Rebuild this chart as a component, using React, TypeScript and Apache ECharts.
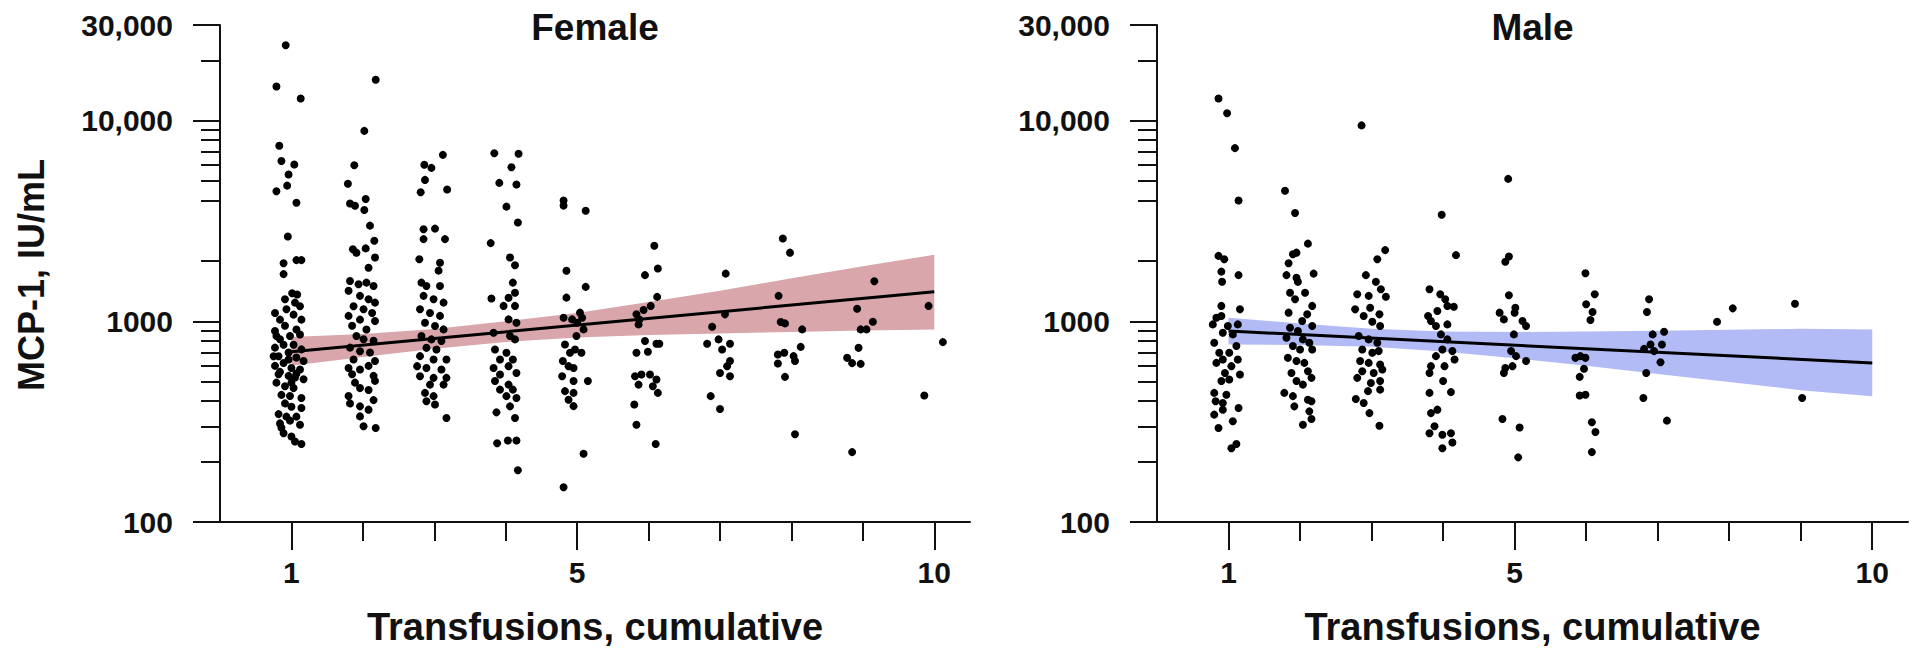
import React, { useEffect, useRef } from 'react';
import * as echarts from 'echarts';

// ---------- axes ----------
const X_MIN = 0;
const X_MAX = 10.5;
const X_TICKS_MINOR = [1, 2, 3, 4, 5, 6, 7, 8, 9, 10];
const X_TICKS_MAJOR = [1, 5, 10];
const Y_MIN = 100;
const Y_MAX = 30000;
const Y_TICKS_MAJOR = [100, 1000, 10000, 30000];
const Y_TICKS_MINOR = [200, 300, 400, 500, 600, 700, 800, 900, 2000, 4000, 5000, 6000, 7000, 8000, 9000, 20000];

const TITLES = ['Female', 'Male'];
const X_TITLE = 'Transfusions, cumulative';
const Y_TITLE = 'MCP-1, IU/mL';

// ---------- regression fits ----------
const FIT_X = [1, 10];
const femaleFitY = [705, 1405];
const maleFitY = [895, 621];

const BAND_X = [1, 2, 3, 4, 5, 6, 7, 8, 9, 10];
const femaleBandLower = [600, 665, 730, 790, 830, 855, 870, 885, 900, 912];
const femaleBandUpper = [835, 865, 915, 1000, 1100, 1250, 1420, 1640, 1880, 2150];
const maleBandLower = [767, 762, 748, 707, 655, 600, 547, 499, 454, 423];
const maleBandUpper = [1043, 975, 918, 890, 884, 890, 898, 907, 918, 912];

// ---------- female points (jittered x, MCP-1) ----------
const female1 = [
  [0.92, 23800], [0.79, 14800], [1.13, 12900], [0.83, 7500], [0.86, 6300], [1.04, 6050], [0.96, 5400],
  [0.94, 4750], [0.79, 4450], [1.07, 3900], [0.95, 2650], [0.89, 1950], [1.07, 2020], [1.14, 2020],
  [0.89, 1720], [1.01, 1380], [1.08, 1360],
  [0.91, 1290], [1.05, 1240], [1.12, 1190], [0.77, 1100], [0.93, 1150], [1.03, 1080], [1.14, 1020],
  [0.84, 1020], [0.77, 895], [0.91, 950], [1.07, 910], [0.98, 845], [0.84, 815], [1.12, 860],
  [0.77, 740], [0.89, 765], [1.03, 765], [1.14, 725], [0.82, 670], [0.96, 700], [1.07, 660],
  [1.17, 635], [0.77, 600], [0.89, 620], [1.0, 585], [1.12, 575], [0.82, 545], [0.96, 535],
  [1.05, 525], [0.79, 495], [0.91, 475], [1.03, 465], [0.86, 430], [0.98, 425], [1.14, 415],
  [0.91, 390], [1.0, 375], [1.14, 370], [0.82, 345], [0.93, 335], [1.07, 335], [0.84, 310],
  [0.98, 320], [1.12, 305], [0.86, 295], [0.89, 277], [1.0, 267], [1.05, 252], [1.14, 245],
  [0.79, 845], [0.96, 645], [0.84, 560], [1.07, 550], [0.75, 670], [1.17, 515], [1.0, 495],
];
const female2 = [
  [2.18, 16000], [2.02, 8900], [1.88, 6000], [1.79, 4850], [1.82, 3870], [1.89, 3770], [2.04, 4070],
  [2.02, 3590], [2.1, 3000], [2.16, 2520], [1.86, 2290], [1.91, 2200], [2.04, 2310], [2.17, 2080],
  [2.08, 1850], [1.82, 1590], [1.94, 1530], [2.05, 1560], [2.15, 1500], [1.8, 1420], [1.96, 1340],
  [2.08, 1290], [2.17, 1240], [1.87, 1190], [2.01, 1150], [2.13, 1100], [1.8, 1065], [1.96, 1020],
  [2.17, 1005], [1.85, 950], [2.05, 910], [1.91, 845], [2.01, 815], [2.15, 800], [1.82, 740],
  [1.96, 710], [2.1, 700], [1.87, 645], [2.17, 635], [1.8, 585], [1.96, 575], [2.08, 600],
  [1.85, 545], [2.15, 535], [1.89, 495], [2.17, 505], [1.96, 465], [2.08, 455], [1.8, 425],
  [2.15, 405], [1.82, 390], [1.96, 377], [2.08, 363], [1.96, 336], [2.01, 300], [2.18, 294],
];
const female3 = [
  [3.12, 6760], [2.86, 6030], [2.96, 5820], [2.87, 5070], [2.81, 4400], [3.18, 4540], [2.85, 2880],
  [3.01, 2900], [2.85, 2570], [3.15, 2570], [2.79, 2040], [3.08, 1960], [3.06, 1790], [2.82, 1560],
  [2.89, 1500], [3.08, 1500], [2.85, 1340], [2.99, 1290], [3.13, 1240], [2.8, 1150], [2.94, 1100],
  [3.08, 1065], [2.87, 985], [3.01, 948], [3.13, 912], [2.82, 845], [2.96, 813], [3.1, 798],
  [2.89, 738], [3.03, 724], [2.8, 671], [2.99, 646], [3.17, 646], [2.76, 598], [2.89, 586],
  [3.1, 575], [2.8, 533], [2.99, 523], [3.17, 523], [2.94, 484], [3.13, 484], [2.87, 440],
  [2.99, 424], [2.89, 400], [3.01, 385], [3.17, 330],
];
const female4 = [
  [3.84, 6890], [4.18, 6840], [4.08, 5860], [3.91, 4900], [4.15, 4810], [4.01, 3730], [4.17, 3110],
  [3.79, 2455], [4.06, 2080], [4.13, 1905], [4.1, 1560], [3.8, 1300], [4.04, 1310], [4.13, 1390],
  [3.97, 1194], [4.13, 1194], [4.04, 1023], [4.15, 985], [3.83, 877], [4.06, 845], [4.13, 813],
  [3.85, 724], [4.01, 697], [3.92, 646], [4.1, 646], [3.83, 586], [4.04, 598], [3.92, 543],
  [4.15, 553], [3.85, 504], [4.04, 484], [3.92, 457], [4.1, 457], [4.01, 424], [4.15, 415],
  [4.06, 377], [3.87, 352], [4.13, 330], [3.88, 247], [4.03, 255], [4.15, 255], [4.17, 181],
];
const female5 = [
  [4.81, 4000], [4.81, 3775], [5.12, 3560], [4.85, 1787], [4.85, 1313], [5.12, 1485], [4.81, 1042],
  [4.93, 1023], [5.04, 1105], [5.07, 1042], [5.0, 985], [5.09, 912], [4.99, 845], [4.83, 767],
  [4.9, 697], [4.97, 724], [5.06, 697], [4.8, 634], [4.88, 598], [4.95, 586], [4.79, 533],
  [4.95, 504], [5.15, 504], [4.83, 449], [4.95, 440], [4.88, 407], [4.95, 378], [5.09, 219], [4.81, 149],
];
const female6 = [
  [6.08, 2380], [6.13, 1834], [5.95, 1700], [6.12, 1324], [6.03, 1194], [5.93, 1140], [5.83, 1084],
  [5.87, 1023], [5.86, 966], [5.95, 798], [6.11, 773], [6.15, 773], [5.83, 697], [5.99, 705],
  [5.81, 533], [5.9, 543], [6.02, 543], [6.11, 513], [5.86, 484], [6.06, 475], [6.13, 440],
  [5.8, 385], [5.83, 305], [6.1, 245],
];
const female7 = [
  [7.08, 1730], [6.89, 940], [7.07, 1084], [6.82, 773], [6.98, 813], [7.03, 724], [7.14, 773],
  [7.14, 634], [7.1, 598], [7.0, 553], [7.14, 533], [6.87, 424], [7.0, 366],
];
const female8 = [
  [7.88, 2590], [7.98, 2200], [7.82, 1340], [7.85, 993], [7.91, 977], [8.15, 912], [8.13, 746],
  [7.81, 684], [7.9, 697], [8.03, 671], [7.81, 617], [8.05, 634], [7.91, 529], [8.05, 274],
];
const female9 = [
  [9.16, 1585], [8.92, 1156], [9.14, 995], [8.97, 912], [9.05, 912], [8.94, 738], [8.78, 658],
  [8.85, 619], [8.97, 614], [8.85, 223],
];
const female10 = [[9.92, 1194], [10.12, 788], [9.86, 427]];

// ---------- male points ----------
const male1 = [
  [0.86, 12900], [0.98, 10900], [1.09, 7300], [1.14, 4000], [0.86, 2120], [0.94, 2040], [0.9, 1770],
  [0.91, 1575], [1.14, 1700], [0.9, 1194], [1.16, 1148], [0.83, 1042], [0.9, 1064], [0.78, 966],
  [0.99, 948], [1.13, 966], [0.92, 877], [1.06, 861], [0.8, 782], [1.11, 753], [0.87, 697],
  [1.01, 697], [0.92, 646], [1.13, 646], [0.83, 621], [1.04, 598], [0.95, 553], [1.16, 543],
  [0.9, 504], [1.01, 513], [0.8, 440], [0.97, 431], [0.82, 400], [0.92, 392], [0.8, 343],
  [0.92, 363], [1.14, 370], [1.06, 318], [0.86, 294], [1.04, 233], [1.11, 245],
];
const male2 = [
  [1.79, 4480], [1.93, 3470], [2.11, 2440], [1.95, 2200], [1.9, 2160], [1.84, 1950], [1.81, 1700],
  [1.95, 1650], [2.19, 1730], [1.97, 1574], [1.86, 1390], [2.07, 1390], [1.93, 1288], [2.17, 1194],
  [1.84, 1105], [2.1, 1084], [2.03, 1004], [2.17, 948], [1.86, 929], [1.97, 895], [1.81, 828],
  [2.04, 813], [2.13, 782], [1.9, 753], [2.0, 724], [2.17, 724], [1.83, 658], [1.95, 634],
  [2.06, 621], [1.88, 553], [2.11, 564], [2.16, 523], [1.95, 504], [2.04, 484], [1.78, 440],
  [1.9, 424], [2.11, 407], [2.16, 400], [1.92, 377], [2.13, 356], [2.16, 326], [2.04, 305],
];
const male3 = [
  [2.86, 9480], [3.19, 2265], [3.08, 2040], [2.92, 1700], [3.06, 1574], [3.13, 1445], [3.2, 1327],
  [2.8, 1365], [2.96, 1340], [2.98, 1170], [2.77, 1148], [2.89, 1064], [3.11, 1084], [3.01, 995],
  [3.12, 948], [2.82, 845], [2.96, 813], [3.08, 782], [2.87, 724], [3.01, 697], [3.1, 711],
  [2.84, 634], [2.96, 621], [3.12, 610], [2.87, 564], [3.03, 553], [3.15, 575], [2.8, 523],
  [2.99, 493], [3.12, 504], [2.95, 449], [3.12, 457], [2.78, 410], [2.89, 392], [2.97, 349], [3.11, 302],
];
const male4 = [
  [3.98, 3400], [4.18, 2138], [3.81, 1445], [3.96, 1365], [4.03, 1288], [4.15, 1183], [4.06, 1194],
  [3.92, 1127], [3.79, 1064], [3.83, 1004], [3.9, 948], [4.06, 966], [3.97, 861], [4.06, 813],
  [3.99, 724], [4.13, 711], [4.16, 646], [3.9, 671], [3.83, 598], [4.02, 598], [3.81, 553],
  [4.0, 504], [4.11, 444], [3.81, 440], [3.83, 349], [3.92, 363], [3.88, 300], [3.81, 277],
  [3.99, 272], [4.11, 277], [4.13, 249], [3.99, 233],
];
const male5 = [
  [4.91, 5130], [4.87, 1982], [4.92, 2104], [4.92, 1349], [4.79, 1105], [4.85, 1023], [5.01, 1170],
  [5.0, 1105], [5.11, 1004], [5.16, 948], [4.99, 861], [4.95, 711], [5.02, 671], [4.87, 586],
  [4.85, 553], [4.97, 598], [5.16, 634], [4.83, 326], [5.07, 296], [5.05, 210],
];
const male6 = [
  [5.99, 1738], [6.12, 1365], [6.0, 1216], [6.09, 1114], [6.06, 1016], [5.85, 658], [5.92, 671],
  [5.99, 658], [5.97, 580], [5.91, 529], [5.91, 427], [5.99, 431], [6.08, 314], [6.13, 281], [6.08, 223],
];
const male7 = [
  [6.88, 1288], [6.85, 1114], [6.93, 861], [7.09, 887], [6.81, 729], [6.9, 767], [7.06, 767],
  [6.95, 711], [7.04, 626], [6.84, 553], [6.8, 415], [7.13, 320],
];
const male8 = [[7.83, 996], [8.05, 1161]];
const male9 = [[8.92, 1225], [9.02, 415]];

const femalePoints = [
  ...female1, ...female2, ...female3, ...female4, ...female5,
  ...female6, ...female7, ...female8, ...female9, ...female10,
];
const malePoints = [
  ...male1, ...male2, ...male3, ...male4, ...male5, ...male6, ...male7, ...male8, ...male9,
];

const FONT = "'Liberation Sans', Arial, Helvetica, sans-serif";
const INK = '#111111';
const PINK = '#d8a6ab';
const BLUE = '#b2bbf5';

const LOG_MIN = Math.log10(Y_MIN);
const LOG_MAX = Math.log10(Y_MAX);

function fmtY(v: number): string {
  const n = Math.round(Math.pow(10, v));
  if (n >= 10000) return n.toString().replace(/\B(?=(\d{3})+(?!\d))/g, ',');
  return String(n);
}

const GRIDS = [
  { left: 220, top: 25, width: 750, height: 497 },
  { left: 1157, top: 25, width: 751, height: 497 },
];

function buildOption() {
  const xAxis: any[] = [];
  const yAxis: any[] = [];
  const series: any[] = [];
  const panels = [
    { points: femalePoints, fit: femaleFitY, lo: femaleBandLower, hi: femaleBandUpper, color: PINK },
    { points: malePoints, fit: maleFitY, lo: maleBandLower, hi: maleBandUpper, color: BLUE },
  ];
  panels.forEach((p, g) => {
    xAxis.push({
      gridIndex: g, type: 'value', min: X_MIN, max: X_MAX, position: 'bottom',
      axisLine: { show: true, onZero: false, lineStyle: { color: INK, width: 2 } },
      axisTick: { show: true, customValues: X_TICKS_MINOR, length: 19, lineStyle: { color: INK, width: 2 } },
      axisLabel: { show: false },
      splitLine: { show: false },
    });
    xAxis.push({
      gridIndex: g, type: 'value', min: X_MIN, max: X_MAX, position: 'bottom',
      axisLine: { show: false, onZero: false },
      axisTick: { show: true, customValues: X_TICKS_MAJOR, length: 28, lineStyle: { color: INK, width: 2 } },
      axisLabel: {
        show: true, customValues: X_TICKS_MAJOR, margin: 35,
        fontFamily: FONT, fontWeight: 'bold', fontSize: 30, color: INK,
      },
      splitLine: { show: false },
    });
    // data axis (log)
    yAxis.push({
      gridIndex: g, type: 'log', logBase: 10, min: Y_MIN, max: Y_MAX, show: false,
      splitLine: { show: false },
    });
    // decorative major ticks & labels, placed by log10 of tick values
    yAxis.push({
      gridIndex: g, type: 'value', min: LOG_MIN, max: LOG_MAX, position: 'left',
      axisLine: { show: true, onZero: false, lineStyle: { color: INK, width: 2 } },
      axisTick: { show: true, customValues: Y_TICKS_MAJOR.map(Math.log10), length: 27, lineStyle: { color: INK, width: 2 } },
      axisLabel: {
        show: true, customValues: Y_TICKS_MAJOR.map(Math.log10), margin: 47, formatter: fmtY,
        fontFamily: FONT, fontWeight: 'bold', fontSize: 30, color: INK,
      },
      splitLine: { show: false },
    });
    yAxis.push({
      gridIndex: g, type: 'value', min: LOG_MIN, max: LOG_MAX, position: 'left',
      axisLine: { show: false, onZero: false },
      axisTick: { show: true, customValues: Y_TICKS_MINOR.map(Math.log10), length: 19, lineStyle: { color: INK, width: 2 } },
      axisLabel: { show: false },
      splitLine: { show: false },
    });

    const xi = g * 2;
    const yi = g * 3;
    const lo = p.lo;
    const hi = p.hi;
    const color = p.color;
    series.push({
      type: 'custom', xAxisIndex: xi, yAxisIndex: yi, silent: true, z: 1,
      data: BAND_X.map((x, i) => [x, lo[i], hi[i]]),
      renderItem: (params: any, api: any) => {
        if (params.dataIndex !== 0) return null;
        const pts: number[][] = [];
        for (let i = 0; i < BAND_X.length; i++) pts.push(api.coord([BAND_X[i], hi[i]]));
        for (let i = BAND_X.length - 1; i >= 0; i--) pts.push(api.coord([BAND_X[i], lo[i]]));
        return { type: 'polygon', shape: { points: pts }, style: { fill: color }, silent: true };
      },
    });
    series.push({
      type: 'line', xAxisIndex: xi, yAxisIndex: yi, z: 3, silent: true,
      data: FIT_X.map((x, i) => [x, p.fit[i]]),
      symbol: 'none', lineStyle: { color: '#000', width: 3 },
    });
    series.push({
      type: 'scatter', xAxisIndex: xi, yAxisIndex: yi, z: 4, silent: true,
      data: p.points, symbolSize: 8, itemStyle: { color: '#000', opacity: 1 },
    });
  });

  const graphic: any[] = [];
  GRIDS.forEach((gr, g) => {
    const cx = gr.left + gr.width / 2;
    graphic.push({
      type: 'text', x: cx, y: 27, silent: true,
      style: { text: TITLES[g], font: `bold 37px ${FONT}`, fill: INK, textAlign: 'center', textVerticalAlign: 'middle' },
    });
    graphic.push({
      type: 'text', x: cx, y: 627, silent: true,
      style: { text: X_TITLE, font: `bold 38px ${FONT}`, fill: INK, textAlign: 'center', textVerticalAlign: 'middle' },
    });
  });
  graphic.push({
    type: 'text', x: 31, y: 275, rotation: Math.PI / 2, silent: true,
    style: { text: Y_TITLE, font: `bold 36px ${FONT}`, fill: INK, textAlign: 'center', textVerticalAlign: 'middle' },
  });

  return {
    animation: false,
    backgroundColor: '#ffffff',
    textStyle: { fontFamily: FONT },
    grid: GRIDS.map((g) => ({ ...g, containLabel: false })),
    xAxis, yAxis, series, graphic,
  };
}

export default function App() {
  const ref = useRef<HTMLDivElement>(null);
  useEffect(() => {
    if (!ref.current) return;
    const chart = echarts.init(ref.current, null, { renderer: 'svg' });
    chart.setOption(buildOption() as any);
    return () => chart.dispose();
  }, []);
  return (
    <div
      ref={ref}
      style={{ position: 'fixed', left: 0, top: 0, width: '1920px', height: '657px', background: '#fff' }}
    />
  );
}
